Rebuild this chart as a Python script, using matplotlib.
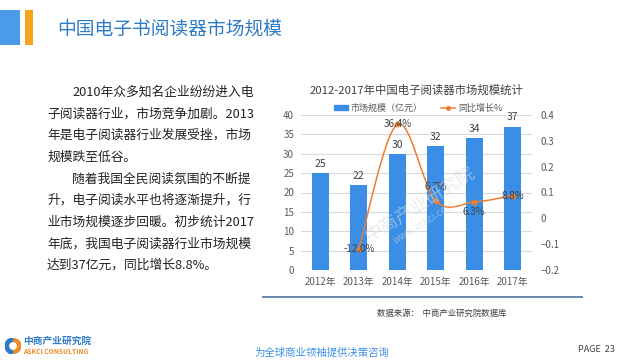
import matplotlib
matplotlib.use('Agg')
import matplotlib.pyplot as plt
from matplotlib.path import Path
from matplotlib.patches import PathPatch, Rectangle, Wedge
from matplotlib.lines import Line2D
import numpy as np

plt.rcParams['font.family'] = ['Noto Sans CJK SC', 'DejaVu Sans']

# ---- data ----
years = ['2012年', '2013年', '2014年', '2015年', '2016年', '2017年']
market = [25, 22, 30, 32, 34, 37]
growth_years_idx = [1, 2, 3, 4, 5]
growth = [-0.12, 0.364, 0.067, 0.063, 0.088]
growth_labels = ['-12.0%', '36.4%', '6.7%', '6.3%', '8.8%']
left_ticks = [0, 5, 10, 15, 20, 25, 30, 35, 40]
right_ticks = [-0.2, -0.1, 0, 0.1, 0.2, 0.3, 0.4]
right_tick_labels = ['−0.2', '−0.1', '0', '0.1', '0.2', '0.3', '0.4']

W, H = 625, 360
def fx(px): return px / W
def fy(py): return 1 - py / H

fig = plt.figure(figsize=(6.25, 3.6), dpi=100)
fig.patch.set_facecolor('white')

# ---- header ----
fig.add_artist(Rectangle((fx(0), fy(45)), fx(20), 35 / H, transform=fig.transFigure,
                         color='#4A9BE8', lw=0))
fig.add_artist(Rectangle((fx(25), fy(45)), fx(8), 35 / H, transform=fig.transFigure,
                         color='#F7A21B', lw=0))
fig.text(fx(57), fy(29), '中国电子书阅读器市场规模', fontsize=13.5, color='#2F7BC6',
         va='center', ha='left')

# ---- left paragraph ----
para = [
    (72, '2010年众多知名企业纷纷进入电'),
    (47, '子阅读器行业，市场竞争加剧。2013'),
    (47, '年是电子阅读器行业发展受挫，市场'),
    (47, '规模跌至低谷。'),
    (72, '随着我国全民阅读氛围的不断提'),
    (47, '升，电子阅读水平也将逐渐提升，行'),
    (47, '业市场规模逐步回暖。初步统计2017'),
    (47, '年底，我国电子阅读器行业市场规模'),
    (47, '达到37亿元，同比增长8.8%。'),
]
for i, (x0, line) in enumerate(para):
    fig.text(fx(x0), fy(92 + i * 21.7), line, fontsize=9.2, color='#222222',
             va='center', ha='left')

# ---- chart ----
ax = fig.add_axes([fx(301), fy(270), (532 - 301) / W, (270 - 115) / H])
x = np.arange(len(years))
bar_color = '#3A8EE6'
line_color = '#ED7D31'
ax.bar(x, market, width=0.44, color=bar_color, zorder=2)
ax.set_xlim(-0.5, len(years) - 0.5)
ax.set_ylim(0, 40)
ax.set_yticks(left_ticks)
for t in left_ticks:
    ax.axhline(t, color='#D9D9D9', lw=0.8, zorder=0)
for s in ax.spines.values():
    s.set_visible(False)
ax.tick_params(length=0, labelsize=7, colors='#595959', pad=5)
ax.set_xticks(x)
ax.set_xticklabels(years)
for xi, v in zip(x, market):
    ax.annotate(str(v), (xi, v), xytext=(0, 3), textcoords='offset points',
                ha='center', va='bottom', fontsize=7.5, color='#404040', zorder=5)

ax2 = ax.twinx()
ax2.set_ylim(-0.2, 0.4)
ax2.set_yticks(right_ticks)
ax2.set_yticklabels(right_tick_labels)
for s in ax2.spines.values():
    s.set_visible(False)
ax2.tick_params(length=0, labelsize=7, colors='#595959', pad=6)

# smooth line (Catmull-Rom style bezier through the data points)
px = np.array(growth_years_idx, dtype=float)
py = np.array(growth, dtype=float)
pts = np.column_stack([px, py])
verts = [tuple(pts[0])]
codes = [Path.MOVETO]
n = len(pts)
for i in range(n - 1):
    p0 = pts[i - 1] if i > 0 else pts[i]
    p1 = pts[i]
    p2 = pts[i + 1]
    p3 = pts[i + 2] if i + 2 < n else pts[i + 1]
    c1 = p1 + (p2 - p0) / 6.0
    c2 = p2 - (p3 - p1) / 6.0
    verts += [tuple(c1), tuple(c2), tuple(p2)]
    codes += [Path.CURVE4] * 3
ax2.add_patch(PathPatch(Path(verts, codes), facecolor='none', edgecolor=line_color,
                        lw=1.1, zorder=3))
ax2.plot(px, py, 'o', ms=3.2, color=line_color, zorder=4)
offsets = [0, 0, 10, -7, 0]
for xi, yi, lab, off in zip(px, py, growth_labels, offsets):
    ax2.annotate(lab, (xi, yi), xytext=(0, off), textcoords='offset points',
                 ha='center', va='center', fontsize=7, color='#404040', zorder=5)

# watermark
fig.text(fx(420), fy(205), '中商产业研究院', fontsize=13, color='#d3dbe4', alpha=0.55,
         rotation=32, ha='center', va='center', zorder=10)
fig.text(fx(425), fy(222), 'www.askci.com', fontsize=7, color='#d3dbe4', alpha=0.55,
         rotation=32, ha='center', va='center', zorder=10)

# chart title and legend
fig.text(fx(417), fy(90), '2012-2017年中国电子阅读器市场规模统计', fontsize=8.2,
         color='#404040', ha='center', va='center')
handles = [Rectangle((0, 0), 1, 1, color=bar_color),
           Line2D([0], [0], color=line_color, marker='o', ms=2.5, lw=1.1)]
fig.legend(handles, ['市场规模（亿元）', '同比增长%'], loc='center',
           bbox_to_anchor=(fx(418), fy(108)), ncol=2, frameon=False, fontsize=6.5,
           handlelength=1.6, handleheight=0.5, handletextpad=0.3, columnspacing=2.0,
           labelcolor='#595959')

# bottom rule
fig.add_artist(Line2D([fx(263), fx(582)], [fy(297), fy(297)], color='#6A8CB0', lw=1.5,
                      transform=fig.transFigure))

# source
fig.text(fx(377), fy(313), '数据来源：  中商产业研究院数据库', fontsize=6, color='#404040',
         ha='left', va='center')

# footer
logo_ax = fig.add_axes([fx(5), fy(354), 16 / W, 16 / H])
logo_ax.set_xlim(-1, 1)
logo_ax.set_ylim(-1, 1)
logo_ax.axis('off')
logo_ax.add_patch(Wedge((0, 0), 1, 90, 270, color='#2F7BC6'))
logo_ax.add_patch(Wedge((0.1, 0), 0.9, -90, 90, color='#F08A24'))
logo_ax.add_patch(Wedge((0, 0), 0.4, 0, 360, color='white'))
fig.text(fx(23), fy(341), '中商产业研究院', fontsize=7, color='#2F7BC6', fontweight='bold',
         ha='left', va='center')
fig.text(fx(23), fy(351), 'ASKCI CONSULTING', fontsize=4.8, color='#F08A24',
         fontweight='bold', ha='left', va='center')
fig.text(fx(322), fy(353), '为全球商业领袖提供决策咨询', fontsize=7.5, color='#3D8FE3',
         style='italic', ha='center', va='center')
fig.text(fx(578), fy(350), 'PAGE  23', fontsize=6.5, color='#404040', ha='left', va='center')

fig.savefig('out.png', dpi=100, facecolor='white')
